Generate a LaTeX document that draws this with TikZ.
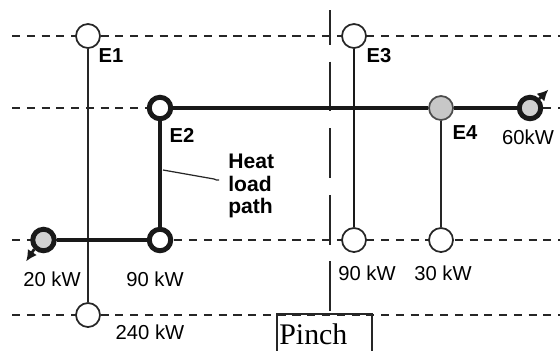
\documentclass[tikz,border=0pt]{standalone}
\usepackage{fontspec}
\setsansfont{Liberation Sans}
\setmainfont{Liberation Serif}
\usepackage{tikz}
\usetikzlibrary{arrows.meta,calc,positioning}
\tikzset{
  hx/.style={circle,draw=black!85,fill=white,minimum size=4.8mm,inner sep=0pt,line width=1pt},
  hxg/.style={circle,draw=black!70,fill=black!22,minimum size=4.8mm,inner sep=0pt,line width=1pt},
  hxb/.style={circle,draw=black!90,fill=white,minimum size=4.3mm,inner sep=0pt,line width=2.8pt},
  hxu/.style={circle,draw=black!90,fill=black!18,minimum size=4.3mm,inner sep=0pt,line width=2.8pt},
  strm/.style={draw=black!85,line width=.9pt,dash pattern=on 4.6pt off 3.8pt},
  lnk/.style={draw=black!85,line width=.8pt},
  lnkm/.style={draw=black!90,line width=1.7pt},
  pth/.style={draw=black!90,line width=2.4pt},
  pnch/.style={draw=black!85,line width=.8pt,dash pattern=on 28.3pt off 9.6pt,dash phase=8.5pt},
  utl/.style={-{Latex[length=2.2mm,width=2.2mm]},line width=1.6pt,draw=black!90},
  lb/.style={font=\sffamily\fontsize{11.5}{12}\selectfont,inner sep=0pt},
  eb/.style={font=\sffamily\bfseries\fontsize{11.5}{12}\selectfont,inner sep=0pt},
}
\begin{document}
\begin{tikzpicture}
\useasboundingbox (0,0) rectangle (11.2,7);
% the four streams, hot above and cold below
\draw[strm] (0.24,6.28) -- (11.2,6.28);
\draw[strm] (0.24,4.84) -- (11.2,4.84);
\draw[strm] (0.24,2.20) -- (11.2,2.20);
\draw[strm] (0.24,0.70) -- (11.2,0.70);
% pinch
\draw[pnch] (6.60,6.80) -- (6.60,0.74);
\draw[draw=black!85,line width=.6pt] (5.54,-0.2) |- (7.44,0.72) -- (7.44,-0.2);
\node[font=\fontsize{17}{17}\selectfont,anchor=west,inner sep=0pt] (pinch) at (5.58,0.31) {Pinch};
% exchangers and utilities
\node[hx] (e1t) at (1.76,6.28) {}; \node[hx] (e1b) at (1.76,0.70) {};
\node[hxb] (e2t) at (3.20,4.84) {}; \node[hxb] (e2b) at (3.20,2.20) {};
\node[hx] (e3t) at (7.08,6.28) {}; \node[hx] (e3b) at (7.08,2.20) {};
\node[hxg] (e4t) at (8.82,4.84) {}; \node[hx] (e4b) at (8.82,2.20) {};
\node[hxu] (htr) at (0.87,2.20) {}; \node[hxu] (clr) at (10.60,4.84) {};
\draw[lnk] (e1t) -- (e1b);
\draw[lnk] (e4t) -- (e4b);
\draw[lnkm] (e3t) -- (e3b);
% the heat load path
\draw[pth] (e2t) -- (e4t) (e4t) -- (clr);
\draw[pth] (e2t) -- (e2b) -- (htr);
\draw[utl] (clr.north east) -- ++(0.18,0.18);
\draw[utl] (htr.south west) -- ++(-0.16,-0.24);
\node[eb,anchor=west,align=left,font=\sffamily\bfseries\fontsize{12}{12.6}\selectfont] (hlp) at (4.56,3.28) {Heat\\load\\path};
\coordinate (hlq) at (3.26,3.60);
\draw[draw=black!85,line width=.7pt] (hlq) -- (4.28,3.42) to[out=-20,in=200] (4.38,3.40);
% labels
\node[eb] (le1) at (2.22,5.88) {E1};
\node[eb] (le2) at (3.64,4.30) {E2};
\node[eb] (le3) at (7.58,5.88) {E3};
\node[eb] (le4) at (9.30,4.34) {E4};
\node[lb] (lclr) at (10.56,4.26) {60kW};
\node[lb] (lhtr) at (1.04,1.42) {20 kW};
\node[lb] (l2b) at (3.10,1.42) {90 kW};
\node[lb] (l1b) at (3.00,0.36) {240 kW};
\node[lb] (l3b) at (7.34,1.54) {90 kW};
\node[lb] (l4b) at (8.86,1.54) {30 kW};
\end{tikzpicture}
\end{document}
